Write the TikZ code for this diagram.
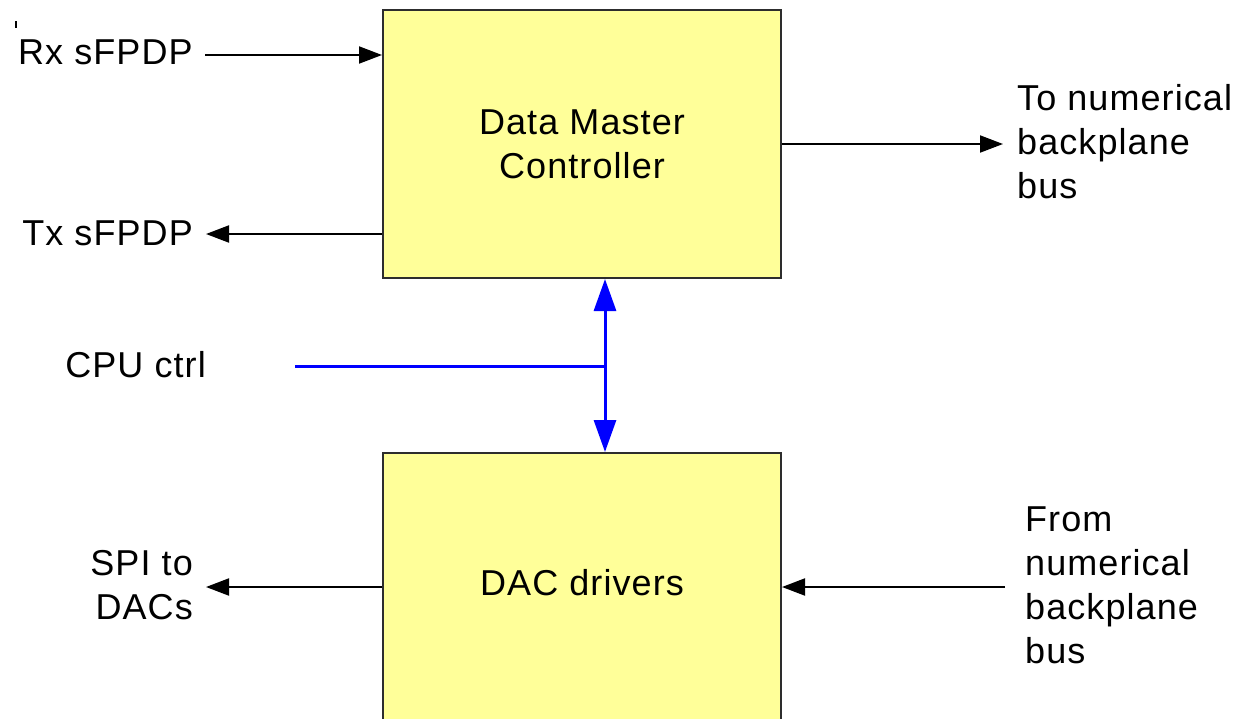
\documentclass[tikz,border=0pt]{standalone}
\usepackage{fontspec}
\setmainfont{Liberation Sans}[LetterSpace=3]
\usetikzlibrary{arrows.meta}
\definecolor{boxfill}{RGB}{255,255,153}
\definecolor{boxline}{RGB}{45,45,45}
\definecolor{busblue}{RGB}{0,0,255}
\tikzset{
  block/.style={draw=boxline, line width=2pt, fill=boxfill, minimum width=398pt, inner sep=0pt},
  lbl/.style={inner sep=0pt, font=\fontsize{36}{44}\selectfont},
  arr/.style={line width=2pt, -{Triangle[length=23pt,width=17pt]}},
  busline/.style={draw=busblue, line width=3pt},
  busarr/.style={busline, {Triangle[length=32pt,width=22pt]}-{Triangle[length=32pt,width=22pt]}}
}
\begin{document}
\begin{tikzpicture}[x=1pt,y=-1pt]
\clip (0,0) rectangle (1243,718);
\fill[white] (0,0) rectangle (1243,718);

% the two functional blocks
\node[block, minimum height=268pt, lbl, align=center] (dmc) at (582,144) {Data Master\\Controller};
\node[block, minimum height=330pt] (dac) at (582,618) {};
\node[lbl] (dactxt) at (582,583) {DAC drivers};

% stray tick near the corner
\coordinate (tickA) at (16,21);
\coordinate (tickB) at (16,28);
\draw[line width=1.5pt] (tickA) -- (tickB);

% serial links on the left of the controller
\node[lbl, anchor=west] (rx) at (18,52) {Rx sFPDP};
\coordinate (rxin) at (205,55);
\draw[arr] (rxin) -- (dmc.west |- rxin);

\node[lbl, anchor=east] (tx) at (193,233) {Tx sFPDP};
\coordinate (txout) at (206,234);
\draw[arr] (dmc.west |- txout) -- (txout);

% backplane output
\node[lbl, anchor=west, align=left] (tobus) at (1017,142) {To numerical\\backplane\\bus};
\coordinate (busout) at (1003,144);
\draw[arr] (dmc.east |- busout) -- (busout);

% CPU control bus
\node[lbl, anchor=east] (cpu) at (206,365) {CPU ctrl};
\coordinate (cpuin) at (295,366);
\coordinate (bus) at (605,366);
\draw[busline] (cpuin) -- (bus);
\draw[busarr] (dmc.south -| bus) -- (dac.north -| bus);

% DAC driver links
\node[lbl, anchor=east, align=right] (spi) at (193,585) {SPI to\\DACs};
\coordinate (spiout) at (206,587);
\draw[arr] (dac.west |- spiout) -- (spiout);

\node[lbl, anchor=west, align=left] (frombus) at (1025,585) {From\\numerical\\backplane\\bus};
\coordinate (busin) at (1005,587);
\draw[arr] (busin) -- (dac.east |- busin);
\end{tikzpicture}
\end{document}
